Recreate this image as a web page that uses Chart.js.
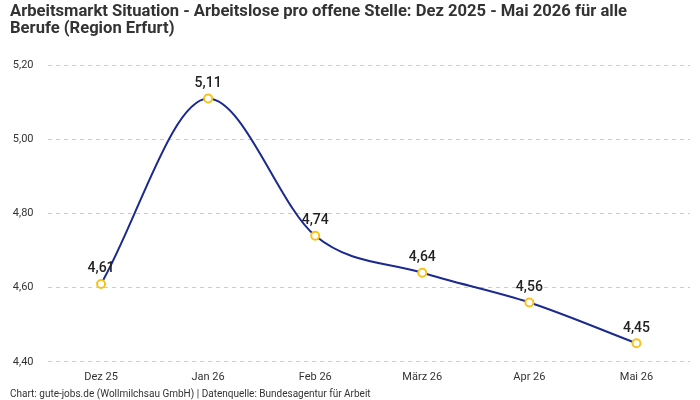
<!DOCTYPE html>
<html>
<head>
<meta charset="utf-8">
<script src="https://cdn.jsdelivr.net/npm/chart.js@4.4.1/dist/chart.umd.min.js"></script>
<style>
html,body{margin:0;padding:0;background:#fff;}
#wrap{width:700px;height:400px;}
</style>
</head>
<body>
<div id="wrap"><canvas id="c" width="700" height="400"></canvas></div>
<script>
const categories = ['Dez 25', 'Jan 26', 'Feb 26', 'März 26', 'Apr 26', 'Mai 26'];
const values = [4.61, 5.11, 4.74, 4.64, 4.56, 4.45];
const titleLines = ['Arbeitsmarkt Situation - Arbeitslose pro offene Stelle: Dez 2025 - Mai 2026 für alle', 'Berufe (Region Erfurt)'];
const footerText = 'Chart: gute-jobs.de (Wollmilchsau GmbH) | Datenquelle: Bundesagentur für Arbeit';

const FONT = '"Roboto", "Liberation Sans", sans-serif';
const fmt = v => v.toFixed(2).replace('.', ',');

const labelPlugin = {
  id: 'valueLabels',
  afterDatasetsDraw(chart) {
    const ctx = chart.ctx;
    const meta = chart.getDatasetMeta(0);
    ctx.save();
    ctx.font = '500 14px ' + FONT;
    ctx.fillStyle = '#222';
    ctx.textAlign = 'center';
    ctx.textBaseline = 'bottom';
    meta.data.forEach((pt, i) => {
      ctx.fillText(fmt(values[i]), pt.x, pt.y - 8);
    });
    ctx.restore();
  }
};

new Chart(document.getElementById('c'), {
  type: 'line',
  data: {
    labels: categories,
    datasets: [{
      data: values,
      borderColor: '#1b2a8f',
      borderWidth: 2,
      cubicInterpolationMode: 'monotone',
      pointRadius: 4,
      pointBorderWidth: 2,
      pointBackgroundColor: '#ffffff',
      pointBorderColor: '#f7c31b',
      fill: false
    }]
  },
  options: {
    responsive: false,
    animation: false,
    layout: { padding: { left: 10, right: 10, top: 0, bottom: 0 } },
    plugins: {
      legend: { display: false },
      tooltip: { enabled: false },
      title: {
        display: true,
        text: titleLines,
        align: 'start',
        color: '#333',
        font: { family: FONT, size: 16.6, weight: 'bold', lineHeight: 1.0 },
        padding: { top: 4, bottom: 28 }
      },
      subtitle: {
        display: true,
        position: 'bottom',
        text: footerText,
        align: 'start',
        color: '#333',
        font: { family: FONT, size: 10 },
        padding: { top: 3, bottom: 0 }
      }
    },
    scales: {
      x: {
        offset: true,
        grid: { display: false },
        border: { display: false },
        ticks: { color: '#333', font: { family: FONT, size: 11 }, padding: 1 }
      },
      y: {
        min: 4.4,
        max: 5.2,
        afterFit: s => { s.width = 37.5; },
        ticks: {
          stepSize: 0.2,
          color: '#333',
          font: { family: FONT, size: 11 },
          padding: 14,
          callback: v => fmt(v)
        },
        border: { display: false, dash: [4, 4] },
        grid: { color: '#cccccc', drawTicks: false }
      }
    }
  },
  plugins: [labelPlugin]
});
</script>
</body>
</html>
